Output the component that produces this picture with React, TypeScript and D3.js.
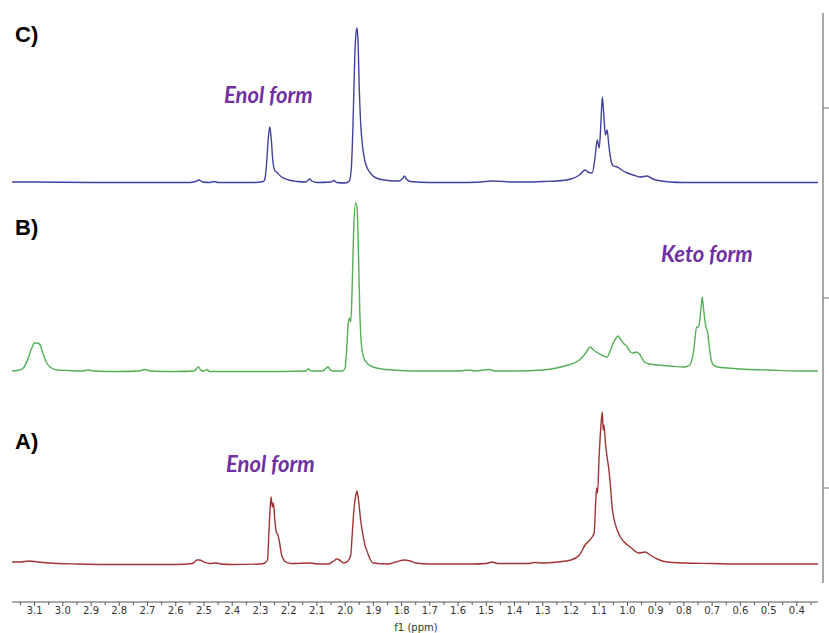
import React from "react";
import * as d3 from "d3";

const W = 829;
const H = 633;

// ppm axis tick labels
const tickLabels = ["3.1","3.0","2.9","2.8","2.7","2.6","2.5","2.4","2.3","2.2","2.1","2.0","1.9","1.8","1.7","1.6","1.5","1.4","1.3","1.2","1.1","1.0","0.9","0.8","0.7","0.6","0.5","0.4"];

// Spectrum C (blue) : [ppm, intensity]
const spectrumC: [number, number][] = [
  [3.18,1],[3.1,1],[2.9,0.5],[2.7,0.5],[2.55,0.5],[2.53,1.5],[2.518,3],[2.505,1],[2.48,0.5],[2.465,1.5],[2.45,0.5],
  [2.32,0.5],[2.29,1.5],[2.285,3],[2.278,20],[2.272,45],[2.267,56],[2.262,45],[2.256,22],[2.25,13],[2.24,10],[2.225,6],
  [2.2,3],[2.17,1.5],[2.14,1],[2.13,3],[2.125,4],[2.118,2],[2.1,0.5],[2.05,1],[2.04,2.5],[2.03,0.5],[2.0,0],
  [1.985,2],[1.978,15],[1.972,60],[1.966,125],[1.962,148],[1.958,155],[1.954,140],[1.95,95],[1.945,60],[1.938,36],
  [1.93,22],[1.92,14],[1.905,8],[1.89,5],[1.86,3],[1.83,2],[1.81,2],[1.795,5],[1.79,7],[1.783,4],[1.77,1.5],
  [1.7,0.5],[1.6,0.5],[1.52,1],[1.48,2],[1.4,1],[1.35,1],[1.3,1.5],[1.25,2],[1.2,4],[1.17,8],[1.15,13],[1.14,11],
  [1.125,10],[1.115,25],[1.107,43],[1.1,35],[1.094,60],[1.089,86],[1.083,65],[1.078,48],[1.072,53],[1.066,38],
  [1.058,22],[1.05,17],[1.036,16],[1.02,13],[1.0,10],[0.98,8],[0.955,6],[0.93,7],[0.91,4],[0.88,2],[0.85,1],
  [0.8,0.5],[0.6,0.5],[0.4,0.5],[0.325,0.5]
];

// Spectrum B (green)
const spectrumB: [number, number][] = [
  [3.18,1],[3.16,1.5],[3.14,4],[3.125,12],[3.11,24],[3.1,29],[3.09,29],[3.08,27],[3.07,18],[3.055,8],[3.04,4],
  [3.02,2],[2.98,1.5],[2.93,1],[2.91,2],[2.89,1],[2.8,0.5],[2.73,1],[2.71,2.5],[2.69,1],[2.6,0.5],[2.535,1],
  [2.52,5],[2.51,1.5],[2.5,1],[2.49,2.5],[2.48,0.5],[2.3,0.5],[2.14,1],[2.13,3],[2.12,1],[2.08,1],[2.06,5],
  [2.055,3],[2.045,1],[2.01,1],[2.0,4],[1.995,20],[1.99,45],[1.985,54],[1.98,50],[1.975,85],[1.97,140],
  [1.963,169],[1.958,165],[1.952,110],[1.948,60],[1.943,30],[1.935,15],[1.92,8],[1.9,5],[1.87,3],[1.83,2],
  [1.75,1],[1.6,1],[1.56,2],[1.54,1],[1.49,2.5],[1.47,1],[1.4,1],[1.3,2],[1.25,4],[1.21,7],[1.17,12],[1.15,18],
  [1.132,25],[1.12,22],[1.104,19],[1.085,16],[1.072,15],[1.06,22],[1.05,29],[1.04,34],[1.033,36],[1.025,33],
  [1.015,29],[1.0,25],[0.99,20],[0.98,19],[0.967,20],[0.955,17],[0.94,10],[0.92,8],[0.894,7],[0.85,6],[0.8,5],
  [0.785,6],[0.777,8],[0.765,22],[0.755,45],[0.748,45],[0.74,62],[0.735,75],[0.73,62],[0.722,45],[0.716,40],
  [0.71,25],[0.703,12],[0.696,7],[0.68,5],[0.646,4],[0.6,3],[0.5,2],[0.4,1],[0.325,1]
];

// Spectrum A (red)
const spectrumA: [number, number][] = [
  [3.18,3],[3.15,3],[3.12,4],[3.09,3],[3.05,2],[2.95,1],[2.8,0.5],[2.6,0.5],[2.54,1.5],[2.525,5],[2.515,5],
  [2.5,3],[2.48,1.5],[2.455,2],[2.44,1],[2.4,0.5],[2.3,1],[2.285,2],[2.275,5],[2.27,32],[2.265,60],[2.262,68],
  [2.258,58],[2.254,62],[2.249,45],[2.244,33],[2.238,30],[2.232,22],[2.225,10],[2.21,3],[2.19,1.5],[2.12,2],
  [2.1,1],[2.06,1],[2.04,4],[2.03,6],[2.02,5],[2.005,2],[1.99,4],[1.98,10],[1.975,30],[1.968,58],[1.962,70],
  [1.958,74],[1.953,66],[1.945,45],[1.938,32],[1.93,20],[1.92,12],[1.91,5],[1.9,2],[1.85,1],[1.82,3],[1.79,5],
  [1.77,4],[1.75,2],[1.7,1],[1.55,1],[1.5,1.5],[1.48,3],[1.46,1.5],[1.35,1.5],[1.33,2.5],[1.3,2],[1.25,3],
  [1.2,5],[1.17,10],[1.15,20],[1.125,28],[1.118,32],[1.112,65],[1.109,77],[1.106,72],[1.1,110],[1.095,135],
  [1.089,153],[1.086,135],[1.083,140],[1.078,122],[1.072,108],[1.067,98],[1.061,82],[1.055,60],[1.049,48],
  [1.04,38],[1.025,28],[1.0,20],[0.99,18],[0.96,12],[0.937,13],[0.92,10],[0.895,6],[0.86,3],[0.8,2],[0.7,1.5],
  [0.6,1],[0.4,1],[0.325,1]
];

const panels = [
  { key: "C", data: spectrumC, base: 183, top: 28, color: "#4242a0", label: "C)", labelY: 42, note: "Enol form", noteX: 224, noteY: 103 },
  { key: "B", data: spectrumB, base: 372, top: 203, color: "#55b055", label: "B)", labelY: 235, note: "Keto form", noteX: 661, noteY: 262 },
  { key: "A", data: spectrumA, base: 565, top: 412, color: "#a03535", label: "A)", labelY: 449, note: "Enol form", noteX: 226, noteY: 472 },
];

export default function App() {
  const x = d3.scaleLinear().domain([3.18, 0.325]).range([12, 818]);
  const axisY = 602;
  const majorTicks = tickLabels.map((t) => +t);
  const minorTicks = d3.range(3.15, 0.32, -0.1).map((v) => +v.toFixed(2));

  return (
    <svg width={W} height={H} style={{ position: "absolute", left: 0, top: 0, background: "#fff" }}>
      <rect x={0} y={0} width={W} height={H} fill="#fff" />
      {panels.map((p) => {
        const y = d3.scaleLinear().domain([0, d3.max(p.data, (d) => d[1]) as number]).range([p.base, p.top]);
        const line = d3
          .line<[number, number]>()
          .x((d) => x(d[0]))
          .y((d) => y(d[1]))
          .curve(d3.curveMonotoneX);
        return (
          <g key={p.key}>
            <path d={line(p.data) || ""} fill="none" stroke={p.color} strokeWidth={1.4} strokeLinejoin="round" />
            <text x={15} y={p.labelY} fontFamily="'Liberation Sans', Arial, sans-serif" fontWeight="bold" fontSize={22} fill="#000">
              {p.label}
            </text>
            <text x={p.noteX} y={p.noteY} fontFamily="Lato, 'Open Sans', sans-serif" fontWeight="bold" fontStyle="italic" fontSize={22} fill="#7030a0">
              {p.note}
            </text>
          </g>
        );
      })}
      {/* right intensity axis */}
      <line x1={823} x2={823} y1={13} y2={583} stroke="#a8a8a8" strokeWidth={2} />
      {[108, 298, 488].map((ty) => (
        <line key={ty} x1={823} x2={829} y1={ty} y2={ty} stroke="#777" strokeWidth={1} />
      ))}
      {/* bottom ppm axis */}
      <line x1={12} x2={818} y1={axisY} y2={axisY} stroke="#555" strokeWidth={1} />
      {majorTicks.map((t) => (
        <line key={"M" + t} x1={x(t)} x2={x(t)} y1={axisY} y2={axisY + 4} stroke="#555" strokeWidth={1} />
      ))}
      {minorTicks.map((t) => (
        <line key={"m" + t} x1={x(t)} x2={x(t)} y1={axisY} y2={axisY + 3} stroke="#555" strokeWidth={1} />
      ))}
      {tickLabels.map((t) => (
        <text key={"l" + t} x={x(+t)} y={614} textAnchor="middle" fontFamily="'DejaVu Sans', Verdana, sans-serif" fontSize={10} fill="#333">
          {t}
        </text>
      ))}
      <text x={416} y={631} textAnchor="middle" fontFamily="'DejaVu Sans', Verdana, sans-serif" fontSize={10} fill="#333">
        f1 (ppm)
      </text>
    </svg>
  );
}
